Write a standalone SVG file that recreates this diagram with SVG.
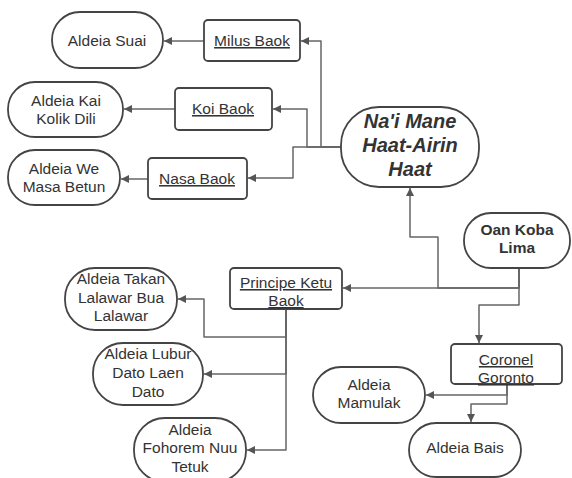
<svg xmlns="http://www.w3.org/2000/svg" width="572" height="478" viewBox="0 0 572 478">
<defs>
<marker id="ah" viewBox="0 0 10 10" refX="10" refY="5" markerWidth="9" markerHeight="8" markerUnits="userSpaceOnUse" orient="auto">
<path d="M0,0 L10,5 L0,10 z" fill="#555"/>
</marker>
<style>
.shape{fill:#fff;stroke:#444;stroke-width:1.8}
.t{font-family:"Liberation Sans",Arial,sans-serif;font-size:15.5px;fill:#333;text-anchor:middle}
.u{text-decoration:underline}
.b{font-weight:bold}
.bi{font-weight:bold;font-style:italic;font-size:20px}
.c{fill:none;stroke:#666;stroke-width:1.5;stroke-linejoin:round;marker-end:url(#ah)}
</style>
</defs>
<rect width="572" height="478" fill="#fff"/>
<g id="connectors">
<path class="c" d="M341,147 H321 V41 H301"/>
<path class="c" d="M341,147 H307 V109 H273"/>
<path class="c" d="M341,147 H293 V178 H248"/>
<path class="c" d="M204,41 H164"/>
<path class="c" d="M175,109 H124"/>
<path class="c" d="M148,179 H121"/>
<path class="c" d="M519,268 V288 H438 V237 H410 V188"/>
<path class="c" d="M519,268 V288 H343"/>
<path class="c" d="M519,268 V305 H479 V343"/>
<path class="c" d="M286,309 V337 H204 V299 H178"/>
<path class="c" d="M286,309 V374 H204"/>
<path class="c" d="M286,309 V450 H247"/>
<path class="c" d="M507,384 V395 H426"/>
<path class="c" d="M507,384 V404 H471 V422"/>
</g>
<g id="nai-mane">
<rect class="shape" x="341" y="107" width="138" height="80" rx="38"/>
<text class="t bi" x="410" y="128">Na'i Mane</text>
<text class="t bi" x="410" y="152">Haat-Airin</text>
<text class="t bi" x="410" y="176">Haat</text>
</g>
<g id="milus-baok">
<rect class="shape" x="204" y="20" width="96" height="41" rx="4"/>
<text class="t u" x="252" y="46">Milus Baok</text>
</g>
<g id="koi-baok">
<rect class="shape" x="175" y="88" width="97" height="42" rx="4"/>
<text class="t u" x="223" y="114">Koi Baok</text>
</g>
<g id="nasa-baok">
<rect class="shape" x="148" y="158" width="99" height="41" rx="4"/>
<text class="t u" x="197" y="184">Nasa Baok</text>
</g>
<g id="aldeia-suai">
<rect class="shape" x="52" y="12" width="111" height="56" rx="28"/>
<text class="t" x="107" y="46">Aldeia Suai</text>
</g>
<g id="aldeia-kai-kolik-dili">
<rect class="shape" x="8" y="82" width="115" height="55" rx="27"/>
<text class="t" x="66" y="106">Aldeia Kai</text>
<text class="t" x="66" y="124">Kolik Dili</text>
</g>
<g id="aldeia-we-masa-betun">
<rect class="shape" x="8" y="150" width="112" height="55" rx="27"/>
<text class="t" x="64" y="174">Aldeia We</text>
<text class="t" x="64" y="192">Masa Betun</text>
</g>
<g id="oan-koba-lima">
<rect class="shape" x="464" y="213" width="106" height="55" rx="27"/>
<text class="t b" x="517" y="235">Oan Koba</text>
<text class="t b" x="517" y="253">Lima</text>
</g>
<g id="principe-ketu-baok">
<rect class="shape" x="230" y="268" width="112" height="41" rx="4"/>
<text class="t u" x="286" y="288">Principe Ketu</text>
<text class="t u" x="286" y="306">Baok</text>
</g>
<g id="coronel-goronto">
<rect class="shape" x="451" y="344" width="111" height="40" rx="4"/>
<text class="t u" x="506" y="365">Coronel</text>
<text class="t u" x="506" y="383">Goronto</text>
</g>
<g id="aldeia-takan">
<rect class="shape" x="65" y="268" width="112" height="62" rx="30"/>
<text class="t" x="121" y="284">Aldeia Takan</text>
<text class="t" x="121" y="303">Lalawar Bua</text>
<text class="t" x="121" y="321">Lalawar</text>
</g>
<g id="aldeia-lubur">
<rect class="shape" x="93" y="343" width="110" height="62" rx="30"/>
<text class="t" x="148" y="359">Aldeia Lubur</text>
<text class="t" x="148" y="378">Dato Laen</text>
<text class="t" x="148" y="397">Dato</text>
</g>
<g id="aldeia-fohorem">
<rect class="shape" x="134" y="418" width="112" height="64" rx="31"/>
<text class="t" x="190" y="435">Aldeia</text>
<text class="t" x="190" y="453">Fohorem Nuu</text>
<text class="t" x="190" y="472">Tetuk</text>
</g>
<g id="aldeia-mamulak">
<rect class="shape" x="313" y="367" width="112" height="56" rx="28"/>
<text class="t" x="369" y="390">Aldeia</text>
<text class="t" x="369" y="408">Mamulak</text>
</g>
<g id="aldeia-bais">
<rect class="shape" x="409" y="423" width="112" height="54" rx="27"/>
<text class="t" x="465" y="453">Aldeia Bais</text>
</g>
</svg>
